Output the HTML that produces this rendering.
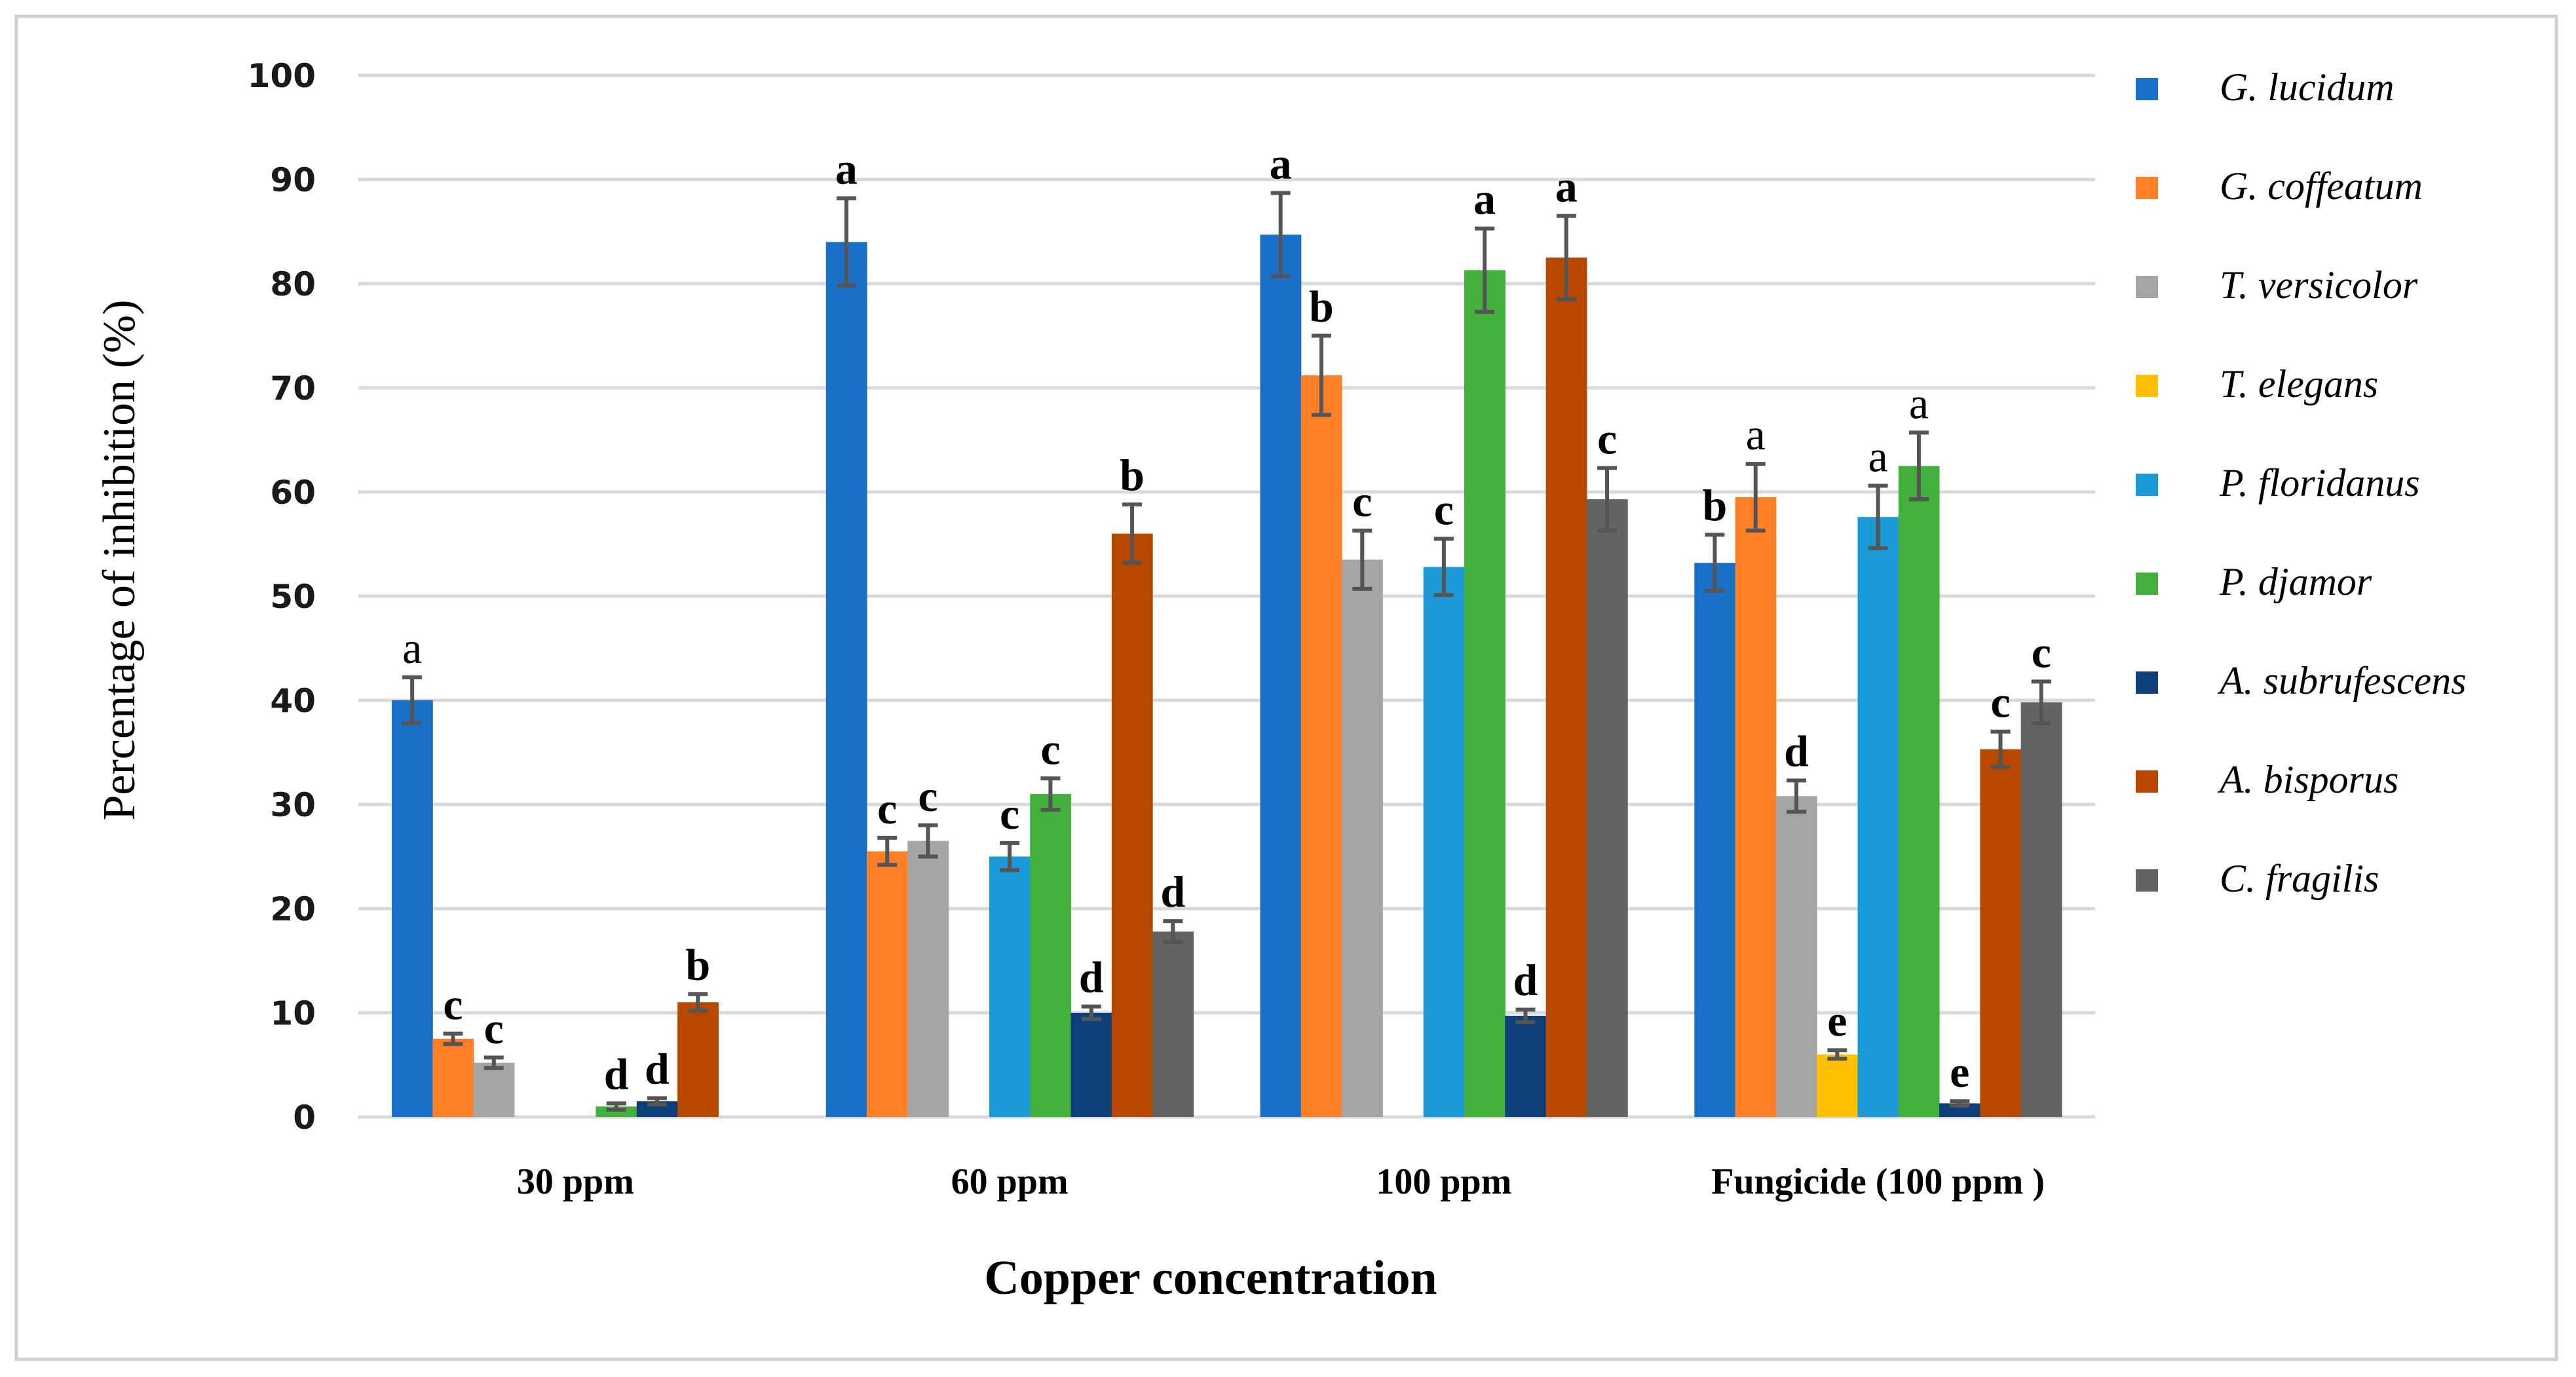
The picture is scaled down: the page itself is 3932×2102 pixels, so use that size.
<!DOCTYPE html>
<html><head><meta charset="utf-8"><style>
html,body{margin:0;padding:0;background:#fff;}
svg{display:block;}
</style></head><body>
<svg id="chart" width="3932" height="2102" xmlns="http://www.w3.org/2000/svg">
<rect x="25" y="25" width="3877" height="2050" fill="#fff" stroke="#d0d0d0" stroke-width="5"/>
<g id="grid"></g><g id="bars"></g><g id="axes"></g><g id="legend"></g>
<text x="1848" y="1975" font-family="Liberation Serif, serif" font-weight="bold" font-size="74" text-anchor="middle">Copper concentration</text>
<text transform="translate(205,855) rotate(-90)" font-family="Liberation Serif, serif" font-size="70" text-anchor="middle">Percentage of inhibition (%)</text>
</svg>
<script>
const categories = ["30 ppm","60 ppm","100 ppm","Fungicide (100 ppm )"];
const seriesNames = ["G. lucidum","G. coffeatum","T. versicolor","T. elegans","P. floridanus","P. djamor","A. subrufescens","A. bisporus","C. fragilis"];
const seriesColors = ["#1870c8","#ff7f27","#a5a5a5","#ffc000","#1a9ad6","#44b03c","#0d3f7a","#b84800","#636363"];
const val30 = [40,7.5,5.2,0,0,1,1.5,11,0];
const val60 = [84,25.5,26.5,0,25,31,10,56,17.8];
const val100 = [84.7,71.2,53.5,0,52.8,81.3,9.7,82.5,59.3];
const valFung = [53.2,59.5,30.8,6,57.6,62.5,1.3,35.3,39.8];
const err30 = [2.2,0.5,0.5,0,0,0.3,0.3,0.8,0];
const err60 = [4.2,1.3,1.5,0,1.3,1.5,0.6,2.8,1];
const err100 = [4,3.8,2.8,0,2.7,4,0.6,4,3];
const errFung = [2.7,3.2,1.5,0.4,3,3.2,0.2,1.7,2];
const let30 = ["a","c","c","","","d","d","b",""];
const let60 = ["a","c","c","","c","c","d","b","d"];
const let100 = ["a","b","c","","c","a","d","a","c"];
const letFung = ["b","a","d","e","a","a","e","c","c"];
const yTicks = [0,10,20,30,40,50,60,70,80,90,100];

const values=[val30,val60,val100,valFung], errs=[err30,err60,err100,errFung], lets=[let30,let60,let100,letFung];
const NS="http://www.w3.org/2000/svg";
const L=547,R=3198,T=115,B=1705;
const band=(R-L)/categories.length, bw=62.3, gpad=(band-9*bw)/2;
const y=v=>B-(v/100)*(B-T);
const xb=(c,s)=>L+c*band+gpad+s*bw;
function mk(tag,attrs,parent){const e=document.createElementNS(NS,tag);for(const k in attrs)e.setAttribute(k,attrs[k]);parent.appendChild(e);return e;}
const grid=document.getElementById('grid'),bars=document.getElementById('bars'),axes=document.getElementById('axes'),leg=document.getElementById('legend');
yTicks.forEach(t=>{
 const ln=mk('line',{x1:L,x2:R,y1:y(t),y2:y(t),stroke:'#d9d9d9','stroke-width':5},grid);
 
 
 const tx=mk('text',{x:482,y:y(t)+18,'text-anchor':'end','font-family':'DejaVu Sans, sans-serif','font-weight':'bold','font-size':50,fill:'#1a1a1a'},axes);
 tx.textContent=t;
 
 
});
categories.forEach((c,ci)=>{
 const tx=mk('text',{x:L+ci*band+band/2,y:1822,'text-anchor':'middle','font-family':'Liberation Serif, serif','font-weight':'bold','font-size':56},axes);
 tx.textContent=c;
 
 
 values[ci].forEach((v,si)=>{
  if(v<=0)return;
  const x=xb(ci,si);
  const r=mk('rect',{x:x,y:y(v),width:bw+0.5,height:B-y(v),fill:seriesColors[si]},bars);
  
  
  const e=errs[ci][si],cx=x+bw/2;
  if(e>0){
   const g=mk('g',{stroke:'#555','stroke-width':6},bars);
   
   
   mk('line',{x1:cx,x2:cx,y1:y(v+e),y2:y(v-e)},g);
   mk('line',{x1:cx-15,x2:cx+15,y1:y(v+e),y2:y(v+e)},g);
   mk('line',{x1:cx-15,x2:cx+15,y1:y(v-e),y2:y(v-e)},g);
  }
  const l=lets[ci][si];
  if(l){
   const bold=!((ci===0&&si===0)||(ci===3&&(si===1||si===4||si===5)));
   const lt=mk('text',{x:cx,y:y(v+e)-22,'text-anchor':'middle','font-family':'Liberation Serif, serif','font-weight':bold?'bold':'normal','font-size':68},bars);
   lt.textContent=l;
   
   
  }
 });
});
seriesNames.forEach((n,i)=>{
 const yy=143+i*151;
 const g=mk('g',{},leg);
 
 
 mk('rect',{x:3260,y:yy-24,width:34,height:34,fill:seriesColors[i]},g);
 const t=mk('text',{x:3388,y:yy+10,'font-family':'Liberation Serif, serif','font-style':'italic','font-size':60},g);
 t.textContent=n;
});
</script>
</body></html>
